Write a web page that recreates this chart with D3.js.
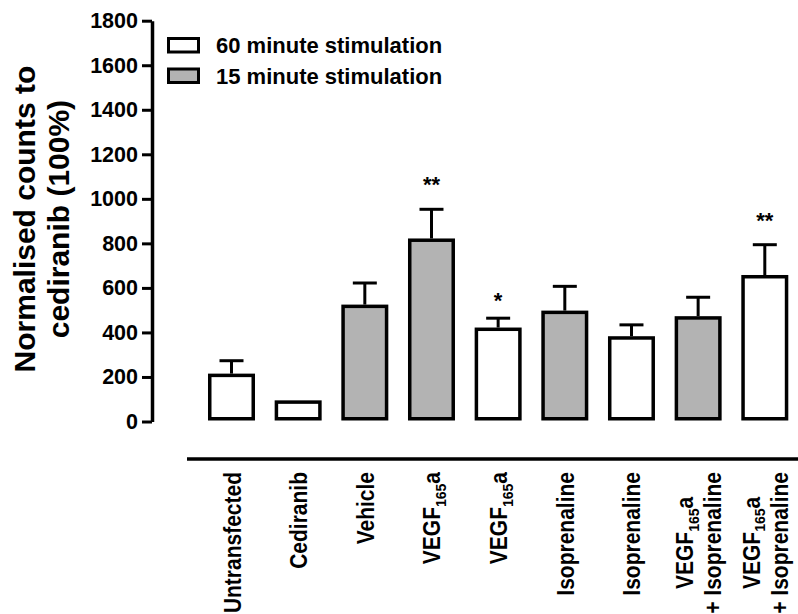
<!DOCTYPE html>
<html>
<head>
<meta charset="utf-8">
<script src="https://cdn.jsdelivr.net/npm/d3@7"></script>
<style>
  body { margin: 0; background: #fff; }
  svg { display: block; font-family: "Liberation Sans", Arial, Helvetica, sans-serif; font-weight: bold; }
</style>
</head>
<body>
<svg width="798" height="614"></svg>
<script>
// data
var categories = ["Untransfected", "Cediranib", "Vehicle", "VEGF{165}a", "VEGF{165}a",
                  "Isoprenaline", "Isoprenaline", "VEGF{165}a|+ Isoprenaline", "VEGF{165}a|+ Isoprenaline"];
var groups = ["60", "60", "15", "15", "60", "15", "60", "15", "60"];
var values = [215, 95, 525, 822, 422, 498, 383, 473, 658];
var errors = [58, 0, 97, 131, 42, 109, 51, 85, 136];
var stars = ["", "", "", "**", "*", "", "", "", "**"];
var yTicks = [0, 200, 400, 600, 800, 1000, 1200, 1400, 1600, 1800];
var legendKeys = ["60", "15"];
var legendLabels = ["60 minute stimulation", "15 minute stimulation"];
var titleLines = ["Normalised counts to", "cediranib (100%)"];

var svg = d3.select("svg");
var fill = d3.scaleOrdinal().domain(["60", "15"]).range(["#ffffff", "#b3b3b3"]);

var x = d3.scaleBand()
  .domain(d3.range(categories.length))
  .range([198, 798.3])
  .paddingInner(0.295)
  .paddingOuter(0.15);

var y = d3.scaleLinear().domain([0, 1800]).range([421.5, 20.7]);

// y axis
var yAxis = svg.append("g")
  .attr("transform", "translate(152,0)")
  .call(d3.axisLeft(y).tickValues(yTicks).tickFormat(d3.format("d"))
    .tickSize(10).tickSizeOuter(0).tickPadding(4));
yAxis.select(".domain").attr("stroke", "#000").attr("stroke-width", 3.5);
yAxis.selectAll(".tick line").attr("stroke", "#000").attr("stroke-width", 3);
yAxis.selectAll(".tick text")
  .attr("fill", "#000")
  .style("font-size", "21.5px")
  .style("font-weight", "bold")
  .style("font-family", "'Liberation Sans', Arial, sans-serif");

// axis title
var title = svg.append("g").attr("transform", "translate(0," + (y(900) - 2) + ") rotate(-90)");
title.selectAll("text")
  .data(titleLines)
  .enter().append("text")
  .attr("text-anchor", "middle")
  .attr("y", function(d, i) { return 35 + i * 34; })
  .style("font-size", "30px")
  .text(function(d) { return d; });

// bars
var sw = 3.5;
svg.selectAll("rect.bar")
  .data(values)
  .enter().append("rect")
  .attr("class", "bar")
  .attr("x", function(d, i) { return x(i) + sw / 2; })
  .attr("y", function(d) { return y(d) + sw / 2; })
  .attr("width", x.bandwidth() - sw)
  .attr("height", function(d) { return y(0) - y(d) - sw - 1; })
  .attr("fill", function(d, i) { return fill(groups[i]); })
  .attr("stroke", "#000")
  .attr("stroke-width", sw);

// error bars (upper only)
var eb = svg.selectAll("g.err")
  .data(values.map(function(v, i) { return { i: i, v: v, e: errors[i] }; }).filter(function(d) { return d.e > 0; }))
  .enter().append("g")
  .attr("class", "err")
  .attr("stroke", "#000")
  .attr("stroke-width", 3);
eb.append("line")
  .attr("x1", function(d) { return x(d.i) + x.bandwidth() / 2; })
  .attr("x2", function(d) { return x(d.i) + x.bandwidth() / 2; })
  .attr("y1", function(d) { return y(d.v); })
  .attr("y2", function(d) { return y(d.v + d.e); });
eb.append("line")
  .attr("x1", function(d) { return x(d.i) + x.bandwidth() / 2 - 12; })
  .attr("x2", function(d) { return x(d.i) + x.bandwidth() / 2 + 12; })
  .attr("y1", function(d) { return y(d.v + d.e); })
  .attr("y2", function(d) { return y(d.v + d.e); });

// significance
svg.selectAll("text.star")
  .data(stars)
  .enter().append("text")
  .attr("class", "star")
  .attr("text-anchor", "middle")
  .attr("x", function(d, i) { return x(i) + x.bandwidth() / 2; })
  .attr("y", function(d, i) { return y(values[i] + errors[i]) - (d.length > 1 ? 17 : 10); })
  .style("font-size", "22px")
  .text(function(d) { return d; });

// x axis line
var axisY = 459;
svg.append("line")
  .attr("x1", x.range()[0] - 11)
  .attr("x2", 798)
  .attr("y1", axisY)
  .attr("y2", axisY)
  .attr("stroke", "#000")
  .attr("stroke-width", 3.5);

// category labels, rotated (glyphs a little taller, like the original)
var stretch = 1.1;
categories.forEach(function(cat, i) {
  var lines = cat.split("|");
  var g = svg.append("g")
    .attr("transform", "translate(" + (x(i) + x.bandwidth() / 2) + "," + (axisY + 13) + ") rotate(-90) scale(1," + stretch + ")");
  var texts = [];
  lines.forEach(function(line, j) {
    var t = g.append("text")
      .attr("text-anchor", "middle")
      .attr("y", (9 + (j - (lines.length - 1) / 2) * 28) / stretch)
      .style("font-size", "21px");
    var parts = line.split(/\{(\d+)\}/);
    parts.forEach(function(p, k) {
      if (!p) return;
      if (k % 2 === 1) {
        t.append("tspan").attr("dy", 5).style("font-size", "14px").text(p);
      } else {
        var ts = t.append("tspan").text(p);
        if (k > 0) ts.attr("dy", -5);
      }
    });
    texts.push(t);
  });
  var maxLen = d3.max(texts, function(t) { return t.node().getComputedTextLength(); });
  texts.forEach(function(t) { t.attr("x", -maxLen / 2); });
});

// legend
var leg = svg.selectAll("g.legend")
  .data(legendKeys)
  .enter().append("g")
  .attr("class", "legend")
  .attr("transform", function(d, i) { return "translate(168.5," + (38.5 + i * 30.5) + ")"; });
leg.append("rect")
  .attr("width", 30)
  .attr("height", 13.5)
  .attr("fill", function(d) { return fill(d); })
  .attr("stroke", "#000")
  .attr("stroke-width", 3);
leg.append("text")
  .attr("x", 47.5)
  .attr("y", 14.5)
  .style("font-size", "22px")
  .text(function(d, i) { return legendLabels[i]; });
</script>
</body>
</html>
